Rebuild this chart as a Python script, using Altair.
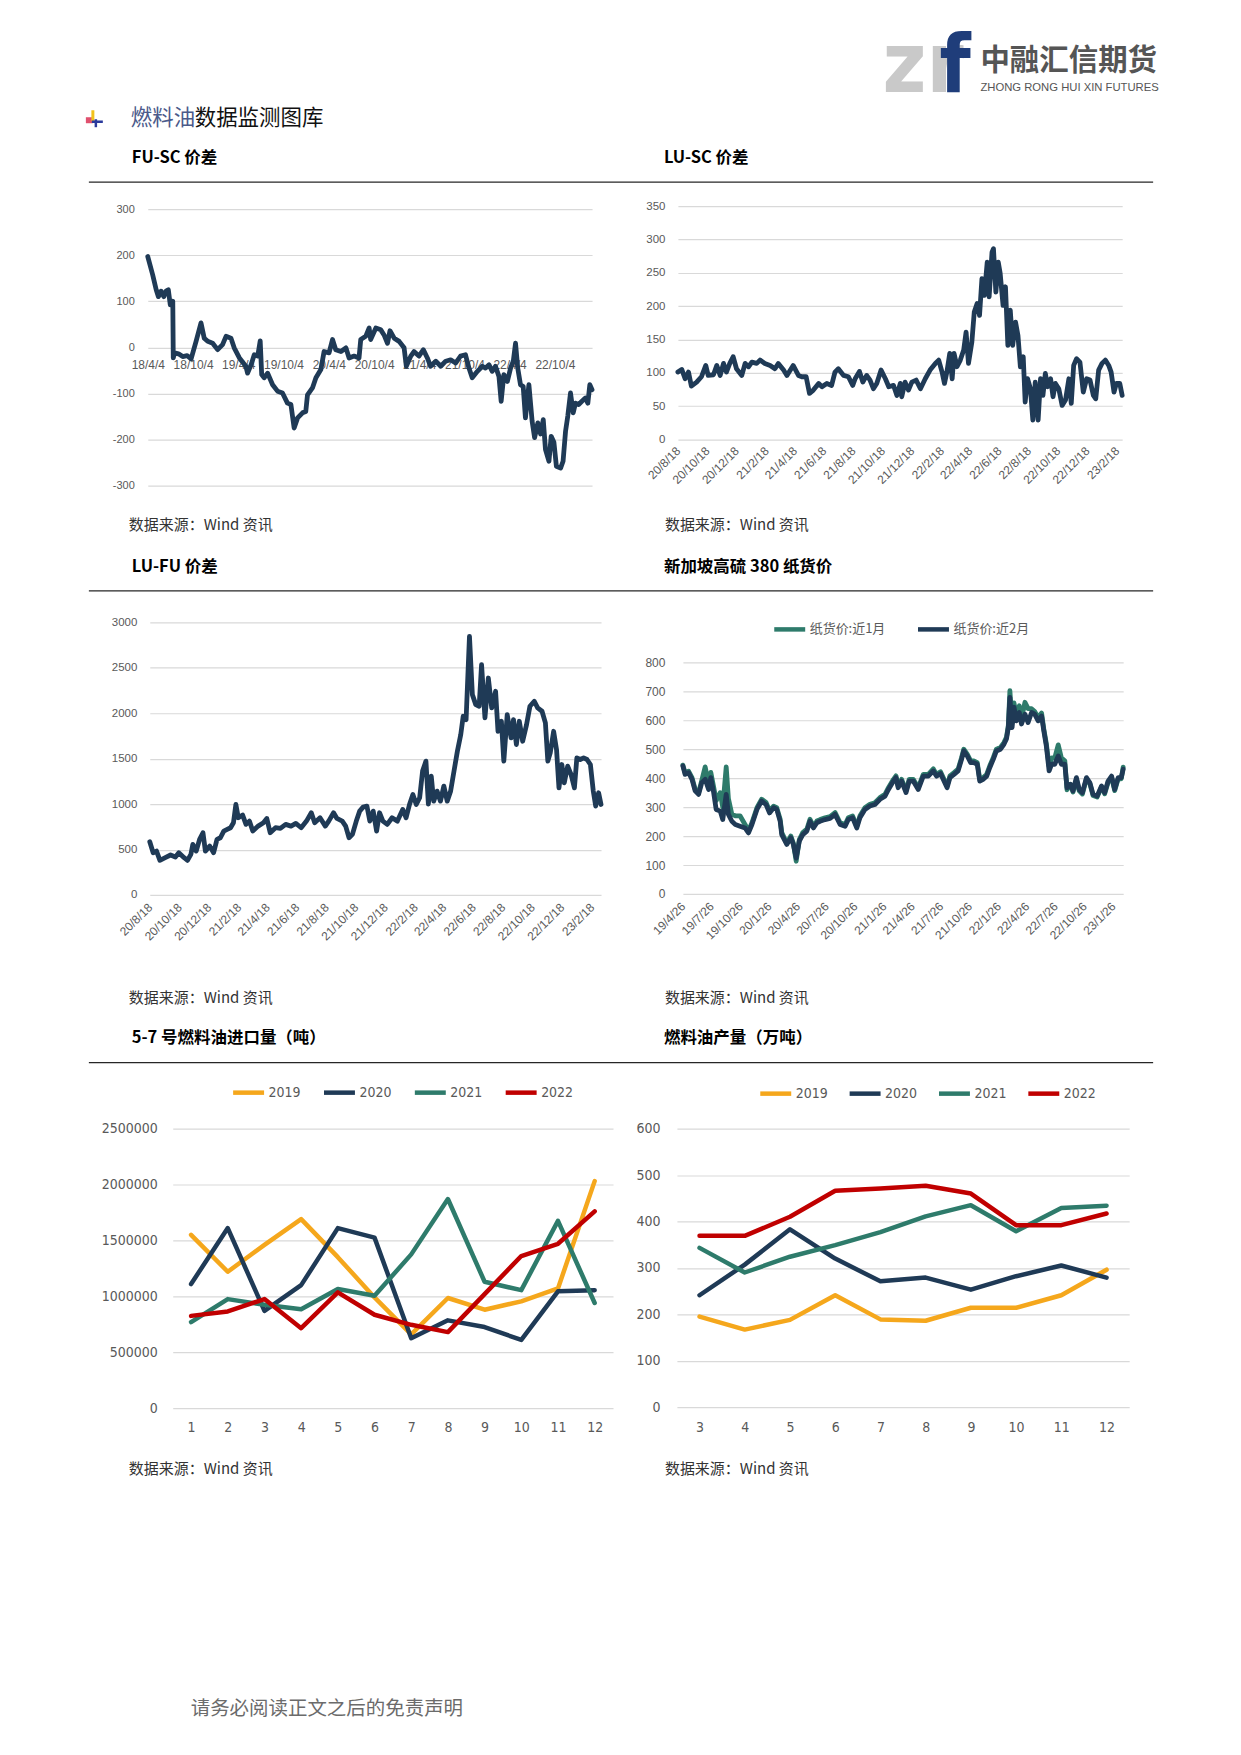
import altair as alt
import pandas as pd

# ---------------- data: FU-SC 价差 (day offsets from start, values) ----------------
fu_sc_start = "2018-04-04"
fu_sc_days = [0,20,34,43,54,65,74,83,91,101,103,108,124,141,159,175,195,215,228,242,
              262,282,302,316,336,349,370,396,403,417,430,444,454,460,470,484,504,524,544,564,
              578,591,605,625,638,645,665,679,699,712,732,746,759,780,800,813,833,853,860,880,
              894,900,921,941,954,968,978,995,1015,1035,1044,1062,1075,1095,1113,1129,1142,1163,1183,1203,
              1223,1243,1263,1283,1297,1310,1331,1351,1364,1378,1391,1404,1418,1427,1438,1452,1465,1476,1485,1494,
              1505,1516,1525,1539,1552,1562,1575,1586,1597,1606,1620,1629,1640,1650,1667,1677,1687,1696,1707,1718,
              1727,1740,1753,1767,1777,1785,1794]
fu_sc_vals = [197,157,125,110,122,110,122,125,92,100,-23,-12,-14,-20,-18,-25,13,53,20,13,
              9,-5,6,24,20,-1,-23,-41,-56,-38,-16,-19,14,-59,-66,-56,-81,-95,-99,-121,
              -124,-175,-153,-142,-139,-103,-88,-66,-48,-9,-12,17,-5,-9,-1,-23,-19,-23,17,24,
              42,17,42,38,27,9,36,20,13,-1,-41,-19,-9,-19,-5,-23,-41,-30,-41,-30,
              -27,-34,-19,-16,-45,-66,-52,-41,-45,-38,-52,-41,-63,-117,-59,-74,-45,-30,9,-45,
              -81,-85,-153,-81,-160,-196,-164,-188,-157,-222,-247,-193,-206,-258,-262,-247,-182,-149,-99,-142,
              -121,-124,-117,-110,-121,-81,-92]
fu_sc_ticks = [(2018,4,4),(2018,10,4),(2019,4,4),(2019,10,4),(2020,4,4),(2020,10,4),
               (2021,4,4),(2021,10,4),(2022,4,4),(2022,10,4)]

# ---------------- LU-SC 价差 ----------------
lu_sc_start = "2020-08-18"
lu_sc_days = [0,8,15,22,28,39,49,58,63,74,81,88,95,101,108,115,122,133,140,147,
              154,164,171,181,192,202,209,220,227,240,251,258,267,274,282,293,300,310,320,327,
              334,345,355,364,369,378,385,393,400,407,414,423,432,439,449,456,463,466,473,480,
              487,496,505,515,525,536,543,550,555,560,566,571,575,581,588,595,600,605,612,617,
              623,628,633,638,644,648,654,657,662,667,671,677,682,687,692,697,703,708,713,719,
              723,728,734,739,744,750,755,760,765,770,776,781,786,793,800,807,814,819,824,830,
              837,844,851,858,865,870,876,883,890,897,902,908,913,920,925]
lu_sc_vals = [101,105,91,101,80,86,94,111,96,97,111,96,114,101,114,124,106,96,114,109,
              116,114,119,114,111,106,114,104,96,111,96,94,94,69,74,84,79,84,81,101,
              106,96,94,81,91,102,86,96,89,76,84,104,91,79,81,66,84,64,86,74,
              86,89,76,91,104,114,119,101,84,101,129,91,129,109,119,134,161,114,146,191,
              204,186,241,216,266,214,281,286,221,266,249,201,229,141,194,141,176,156,109,124,
              56,91,76,29,86,29,91,66,99,79,91,64,84,76,51,59,91,54,111,121,
              116,71,91,89,66,61,104,114,119,111,101,71,84,84,66]
lu_ticks = [(2020,8,18),(2020,10,18),(2020,12,18),(2021,2,18),(2021,4,18),(2021,6,18),
            (2021,8,18),(2021,10,18),(2021,12,18),(2022,2,18),(2022,4,18),(2022,6,18),
            (2022,8,18),(2022,10,18),(2022,12,18),(2023,2,18)]

# ---------------- LU-FU 价差 ----------------
lu_fu_start = "2020-08-18"
lu_fu_days = [0,7,14,21,32,43,53,60,71,78,85,89,96,103,110,115,124,132,139,146,
              153,160,167,173,178,183,192,199,206,213,224,235,242,249,260,270,281,292,302,313,
              324,334,341,352,363,370,380,387,398,405,412,419,427,434,441,449,455,462,469,475,
              482,491,501,512,523,530,537,544,551,558,564,571,576,582,587,594,601,608,615,622,
              629,636,643,648,654,661,667,674,681,686,693,700,707,715,720,727,732,739,747,752,
              758,764,771,779,786,795,802,811,818,823,828,835,841,846,852,857,864,871,878,883,
              890,897,904,911,917,922,928,933]
lu_fu_vals = [586,465,483,381,410,440,418,465,410,381,447,557,483,612,685,483,538,465,612,630,
              703,722,740,795,996,850,879,777,813,703,758,795,842,685,740,733,777,758,788,740,
              813,905,795,850,758,813,905,842,813,758,630,667,813,923,967,978,813,923,703,905,
              813,777,850,813,941,850,996,1106,996,1070,1363,1473,1000,1308,1033,1143,1033,1198,1033,1143,
              1363,1582,1766,1967,1930,2846,2205,2095,2077,2535,1949,2388,2059,2242,1802,1912,1473,1985,1729,1930,
              1656,1912,1692,1875,2077,2132,2059,2022,1894,1473,1564,1802,1601,1179,1436,1234,1418,1326,1179,1509,
              1491,1509,1491,1436,1143,978,1125,996]

# ---------------- 新加坡高硫380纸货价 ----------------
sg_start = "2019-04-26"
sg_days = [0,7,18,29,39,50,60,71,82,89,98,106,119,127,138,145,156,167,182,198,
           209,220,236,251,265,276,289,299,310,315,331,344,352,361,371,382,395,405,416,427,
           437,453,469,485,501,517,527,541,554,564,580,596,612,628,644,655,671,679,686,697,
           711,721,734,750,766,782,798,808,821,832,842,851,864,877,888,895,906,917,927,938,
           946,957,968,978,989,999,1012,1023,1031,1037,1042,1049,1055,1063,1072,1079,1090,1100,1111,1121,
           1132,1143,1150,1158,1167,1175,1185,1196,1206,1217,1224,1235,1243,1254,1263,1273,1286,1297,1307,1320,
           1334,1344,1355,1366,1376,1387,1397,1403]
sg_m1 = [445,418,424,402,362,350,392,439,380,420,370,322,350,300,439,330,275,270,270,240,
         218,246,298,327,316,288,303,298,258,212,176,200,175,113,188,212,224,258,234,252,
         257,263,267,281,246,240,263,269,234,269,298,310,315,333,344,367,396,408,373,396,
         356,396,396,367,413,413,432,413,422,396,373,408,419,431,471,500,483,460,460,454,
         396,402,413,443,471,500,506,523,541,582,702,590,660,615,650,605,662,640,640,630,
         610,625,570,520,440,470,470,515,470,460,360,378,352,396,356,345,398,380,340,335,
         370,346,386,403,357,398,398,438]
sg_m2 = [442,413,419,396,356,344,384,396,361,402,350,292,286,257,344,275,251,240,234,228,
         211,240,292,321,309,280,298,292,251,205,171,194,171,124,183,205,217,251,228,246,
         251,257,261,275,240,234,257,263,228,263,292,304,309,327,338,361,390,402,367,390,
         350,390,390,361,407,407,425,407,416,390,367,402,413,425,465,494,477,454,454,448,
         390,396,407,437,465,494,500,517,535,575,679,575,645,598,627,587,621,592,627,621,
         598,615,564,512,425,448,448,477,448,448,367,379,356,402,361,350,402,384,344,338,
         373,350,390,407,361,402,402,431]
sg_names = ["纸货价:近1月", "纸货价:近2月"]
sg_ticks = [(2019,4,26),(2019,7,26),(2019,10,26),(2020,1,26),(2020,4,26),(2020,7,26),
            (2020,10,26),(2021,1,26),(2021,4,26),(2021,7,26),(2021,10,26),(2022,1,26),
            (2022,4,26),(2022,7,26),(2022,10,26),(2023,1,26)]

# ---------------- 5-7号燃料油进口量（吨） ----------------
years = ["2019", "2020", "2021", "2022"]
imp_months = [1,2,3,4,5,6,7,8,9,10,11,12]
imp_2019 = [1550000,1220000,1460000,1690000,1350000,990000,660000,985000,880000,955000,1070000,2030000]
imp_2020 = [1110000,1610000,870000,1100000,1610000,1525000,625000,785000,725000,610000,1045000,1055000]
imp_2021 = [770000,975000,925000,885000,1065000,1005000,1375000,1870000,1130000,1055000,1675000,940000]
imp_2022 = [825000,865000,975000,715000,1035000,835000,745000,680000,1020000,1360000,1470000,1760000]

# ---------------- 燃料油产量（万吨） ----------------
prod_months = [3,4,5,6,7,8,9,10,11,12]
prod_2019 = [195,167,188,241,189,186,214,214,241,296]
prod_2020 = [241,307,383,320,271,279,253,282,305,279]
prod_2021 = [343,290,324,349,377,411,435,379,429,434]
prod_2022 = [369,369,410,466,471,477,460,392,392,417]

# ---------------- styling ----------------
NAVY = "#1f3a56"
TEAL = "#2e7b6b"
ORANGE = "#f5a71c"
RED = "#c00000"
GRID = "#d9d9d9"
GRAY = "#595959"
CJK = "Noto Sans CJK SC"
NUM = "Liberation Sans, Arial, sans-serif"
NARROW = "Liberation Sans Narrow, DejaVu Sans Condensed, sans-serif"
SOURCE = "数据来源：Wind 资讯"

one = alt.Data(values=[{"k": 1}])


def label(x, y, txt, size, color="#000000", font=CJK, weight="normal", baseline="middle", align="left"):
    return alt.Chart(one).mark_text(text=txt, fontSize=size, color=color, font=font, fontWeight=weight,
                                    align=align, baseline=baseline).encode(x=alt.value(x), y=alt.value(y))


def hline(x1, x2, y, color="#262626", width=1.3):
    return alt.Chart(one).mark_rule(color=color, strokeWidth=width).encode(
        x=alt.value(x1), x2=alt.value(x2), y=alt.value(y))


def vline(x, y1, y2, color, width):
    return alt.Chart(one).mark_rule(color=color, strokeWidth=width).encode(
        x=alt.value(x), y=alt.value(y1), y2=alt.value(y2))


def dt(t):
    return alt.DateTime(year=t[0], month=t[1], date=t[2])


def series_df(start, days, vals, name=None):
    df = pd.DataFrame({"date": pd.Timestamp(start) + pd.to_timedelta(days, unit="D"), "v": vals})
    if name is not None:
        df["s"] = name
    return df


def date_domain(start, days):
    s = pd.Timestamp(start)
    e = s + pd.Timedelta(days=days[-1])
    return [dt((s.year, s.month, s.day)), dt((e.year, e.month, e.day))]


def value_axis(offset, values, pad, size, font=NUM):
    return alt.Axis(orient="left", offset=offset, values=values, labelExpr="'' + datum.value",
                    grid=True, gridColor=GRID, gridWidth=1.2, domain=False, ticks=False, tickSize=0,
                    labelPadding=pad, labelFont=font, labelFontSize=size, labelColor=GRAY, title=None)


def time_axis(offset, ticks, rotated, pad, size=12):
    kw = dict(orient="bottom", offset=offset, values=[dt(t) for t in ticks], format="%y/%-m/%-d",
              grid=False, domain=False, ticks=False, tickSize=0, labelPadding=pad, labelFont=NUM,
              labelFontSize=size, labelColor=GRAY, labelFlush=False, labelOverlap=False, title=None,
              labelBaseline="middle")
    if rotated:
        kw.update(labelAngle=315, labelAlign="right")
    else:
        kw.update(labelAngle=0, labelAlign="center")
    return alt.Axis(**kw)


def cat_axis(offset, pad):
    return alt.Axis(orient="bottom", offset=offset, grid=False, domain=False, ticks=False, tickSize=0,
                    labelPadding=pad, labelFont=NARROW, labelFontSize=14, labelColor=GRAY, labelAngle=0,
                    labelBaseline="middle", title=None)


def legend(x, y, font, size, colpad):
    return alt.Legend(orient="none", legendX=x, legendY=y, direction="horizontal", title=None,
                      symbolType="stroke", symbolSize=961, symbolStrokeWidth=4.5, labelFont=font,
                      labelFontSize=size, labelColor=GRAY, labelOffset=2, columnPadding=colpad, padding=0)


ts_style = dict(strokeWidth=4.8, strokeJoin="round", strokeCap="round")
yr_style = dict(strokeWidth=4.5, strokeJoin="round", strokeCap="round")
SUB = 16.5

# ---------------- header (left & right halves) ----------------
header_l = alt.layer(
    hline(77, 84, 110, "#e0506e", 6),
    vline(84, 100, 111, "#f2c21b", 3),
    hline(83, 94, 111.5, "#2a3a9c", 2.5),
    vline(87, 109, 117, "#2a3a9c", 2.5),
    label(122, 108.5, "燃料油", 21.5, color="#4b5a8a"),
    label(186, 108.5, "数据监测图库", 21.5, color="#111111"),
).properties(width=612, height=132)

header_r = alt.layer(
    label(263, 82, "zr", 84, color="#c9c9c9", font=NARROW, weight="bold", baseline="alphabetic"),
    label(320, 82, "f", 80, color="#1f3d7a", font=NARROW, weight="bold", baseline="alphabetic"),
    label(361, 51, "中融汇信期货", 29.5, color="#555555", weight="bold"),
    label(361, 78, "ZHONG RONG HUI XIN FUTURES", 11.3, color="#555555", font=NUM),
).properties(width=613, height=132)

# ---------------- row 1 ----------------
d1 = series_df(fu_sc_start, fu_sc_days, fu_sc_vals)
c1 = alt.Chart(d1).mark_line(color=NAVY, **ts_style).encode(
    x=alt.X("date:T", scale=alt.Scale(domain=date_domain(fu_sc_start, fu_sc_days), range=[139, 584]),
            axis=time_axis(-194.5, fu_sc_ticks, False, 17)),
    y=alt.Y("v:Q", scale=alt.Scale(domain=[-300, 300], range=[344, 67], nice=False, zero=False),
            axis=value_axis(-139, [-300, -200, -100, 0, 100, 200, 300], 13.5, 11)),
)
p1 = alt.layer(label(123, 16, "FU-SC 价差", SUB, weight="bold"), hline(80, 612, 40), c1,
               label(120, 383, SOURCE, 15, color="#333333")).properties(width=612, height=400)

d2 = series_df(lu_sc_start, lu_sc_days, lu_sc_vals)
c2 = alt.Chart(d2).mark_line(color=NAVY, **ts_style).encode(
    x=alt.X("date:T", scale=alt.Scale(domain=date_domain(lu_sc_start, lu_sc_days), range=[58, 503]),
            axis=time_axis(-102.3, lu_ticks, True, 9)),
    y=alt.Y("v:Q", scale=alt.Scale(domain=[0, 350], range=[297.7, 64], nice=False),
            axis=value_axis(-58, [0, 50, 100, 150, 200, 250, 300, 350], 13, 11.5)),
)
p2 = alt.layer(label(44, 16, "LU-SC 价差", SUB, weight="bold"), hline(0, 534, 40), c2,
               label(45, 383, SOURCE, 15, color="#333333")).properties(width=613, height=400)

# ---------------- row 2 ----------------
d3 = series_df(lu_fu_start, lu_fu_days, lu_fu_vals)
c3 = alt.Chart(d3).mark_line(color=NAVY, **ts_style).encode(
    x=alt.X("date:T", scale=alt.Scale(domain=date_domain(lu_fu_start, lu_fu_days), range=[141, 593]),
            axis=time_axis(-121, lu_ticks, True, 10)),
    y=alt.Y("v:Q", scale=alt.Scale(domain=[0, 3000], range=[354, 81], nice=False),
            axis=value_axis(-141, [0, 500, 1000, 1500, 2000, 2500, 3000], 13, 11.5)),
)
p3 = alt.layer(label(123, 25.5, "LU-FU 价差", SUB, weight="bold"), hline(80, 612, 49.5), c3,
               label(120, 457, SOURCE, 15, color="#333333")).properties(width=612, height=475)

d4a = series_df(sg_start, sg_days, sg_m1, sg_names[0])
d4b = series_df(sg_start, sg_days, sg_m2, sg_names[1])
x4 = alt.X("date:T", scale=alt.Scale(domain=date_domain(sg_start, sg_days), range=[63, 504]),
           axis=time_axis(-122, sg_ticks, True, 10))
y4 = alt.Y("v:Q", scale=alt.Scale(domain=[0, 800], range=[353, 121], nice=False),
           axis=value_axis(-63, [0, 100, 200, 300, 400, 500, 600, 700, 800], 18, 12))
col4 = alt.Color("s:N", scale=alt.Scale(domain=sg_names, range=[TEAL, NAVY]),
                 legend=legend(152, 70, CJK, 13, 23))
c4a = alt.Chart(d4a).mark_line(**ts_style).encode(x=x4, y=y4, color=col4)
c4b = alt.Chart(d4b).mark_line(**ts_style).encode(x=x4, y=y4, color=col4)
p4 = alt.layer(label(44, 25.5, "新加坡高硫 380 纸货价", SUB, weight="bold"), hline(0, 534, 49.5), c4a, c4b,
               label(45, 457, SOURCE, 15, color="#333333")).properties(width=613, height=475)

# ---------------- row 3 ----------------
imp_df = pd.concat([
    pd.DataFrame({"m": imp_months, "v": imp_2019, "y": "2019"}),
    pd.DataFrame({"m": imp_months, "v": imp_2020, "y": "2020"}),
    pd.DataFrame({"m": imp_months, "v": imp_2021, "y": "2021"}),
    pd.DataFrame({"m": imp_months, "v": imp_2022, "y": "2022"}),
])
c5 = alt.Chart(imp_df).mark_line(**yr_style).encode(
    x=alt.X("m:O", scale=alt.Scale(type="point", range=[164, 605], padding=0.5), axis=cat_axis(-82, 19)),
    y=alt.Y("v:Q", scale=alt.Scale(domain=[0, 2500000], range=[393, 113], nice=False),
            axis=value_axis(-164, [0, 500000, 1000000, 1500000, 2000000, 2500000], 15.5, 14, NARROW)),
    color=alt.Color("y:N", scale=alt.Scale(domain=years, range=[ORANGE, NAVY, TEAL, RED]),
                    legend=legend(222, 59, NARROW, 14, 13)),
)
p5 = alt.layer(label(123, 22, "5-7 号燃料油进口量（吨）", SUB, weight="bold"), hline(80, 612, 47), c5,
               label(120, 454, SOURCE, 15, color="#333333")).properties(width=612, height=475)

prod_df = pd.concat([
    pd.DataFrame({"m": prod_months, "v": prod_2019, "y": "2019"}),
    pd.DataFrame({"m": prod_months, "v": prod_2020, "y": "2020"}),
    pd.DataFrame({"m": prod_months, "v": prod_2021, "y": "2021"}),
    pd.DataFrame({"m": prod_months, "v": prod_2022, "y": "2022"}),
])
c6 = alt.Chart(prod_df).mark_line(**yr_style).encode(
    x=alt.X("m:O", scale=alt.Scale(type="point", range=[57, 510], padding=0.5), axis=cat_axis(-83, 20)),
    y=alt.Y("v:Q", scale=alt.Scale(domain=[0, 600], range=[392, 113], nice=False),
            axis=value_axis(-57, [0, 100, 200, 300, 400, 500, 600], 17, 14, NARROW)),
    color=alt.Color("y:N", scale=alt.Scale(domain=years, range=[ORANGE, NAVY, TEAL, RED]),
                    legend=legend(138, 60, NARROW, 14, 11.5)),
)
p6 = alt.layer(label(44, 22, "燃料油产量（万吨）", SUB, weight="bold"), hline(0, 534, 47), c6,
               label(45, 454, SOURCE, 15, color="#333333")).properties(width=613, height=475)

# ---------------- footer ----------------
footer_l = alt.layer(
    label(182, 219, "请务必阅读正文之后的免责声明", 19.5, color="#6b6b6b"),
).properties(width=612, height=250)
footer_r = alt.layer(
    label(10, 219, "", 10, color="#ffffff"),
).properties(width=613, height=250)

chart = alt.concat(header_l, header_r, p1, p2, p3, p4, p5, p6, footer_l, footer_r,
                   columns=2, spacing=0, bounds="flush").properties(
    padding=0, background="white"
).configure_view(stroke="transparent").resolve_scale(color="independent", x="independent", y="independent")

chart.save("out.html", embed_options={"renderer": "svg", "actions": False})
